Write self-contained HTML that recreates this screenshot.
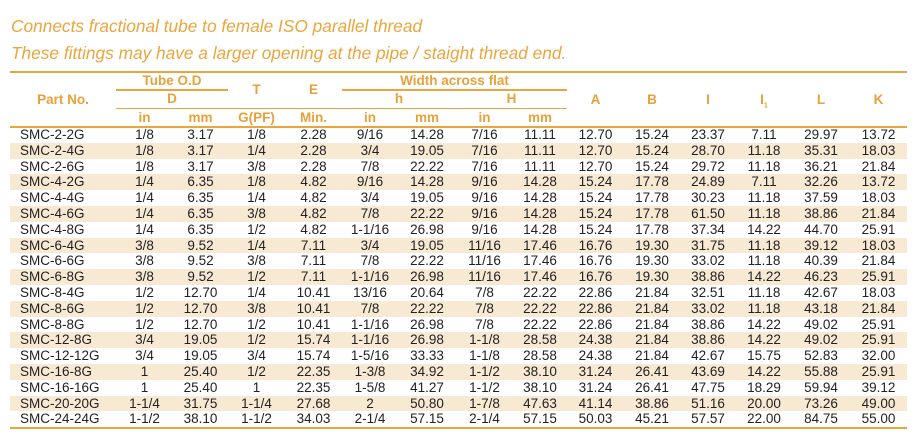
<!DOCTYPE html>
<html><head><meta charset="utf-8"><style>
body{margin:0;width:920px;height:436px;background:#fff;font-family:"Liberation Sans",sans-serif;position:relative;overflow:hidden}
.t{position:absolute;left:11px;color:#eaa63c;font-style:italic;font-size:17.3px;white-space:nowrap}
.h{position:absolute;color:#e6a23a;font-weight:bold;font-size:13.5px;text-align:center;white-space:nowrap}
.ln{position:absolute;height:1.5px;background:#eaa63c}
#tb{position:absolute;left:10px;top:127px;width:897px;font-size:13.5px;color:#222}
.r{display:flex;height:15.8px;line-height:15.8px;white-space:nowrap}
.r:nth-child(even){background:#f8e9d3}
.r span{text-align:center;flex:none}
.r span:nth-child(1){width:96px;padding-left:10px;text-align:left}
.r span:nth-child(2){width:57px}.r span:nth-child(3){width:55px}.r span:nth-child(4){width:57px}
.r span:nth-child(5){width:57px}.r span:nth-child(6){width:56px}.r span:nth-child(7){width:58px}
.r span:nth-child(8){width:57px}.r span:nth-child(9){width:54px}.r span:nth-child(10){width:57px}
.r span:nth-child(11){width:56px}.r span:nth-child(12){width:56px}.r span:nth-child(13){width:56px}
.r span:nth-child(14){width:58px}.r span:nth-child(15){width:57px}
</style></head><body>
<div class="t" style="top:16px">Connects fractional tube to female ISO parallel thread</div>
<div class="t" style="top:43px">These fittings may have a larger opening at the pipe / staight thread end.</div>
<div class="ln" style="left:10px;width:897px;top:71px"></div>
<div class="ln" style="left:116px;width:112px;top:89px"></div>
<div class="ln" style="left:342px;width:225px;top:89px"></div>
<div class="ln" style="left:116px;width:451px;top:107.5px"></div>
<div class="ln" style="left:10px;width:897px;top:126px"></div>
<div class="ln" style="left:10px;width:897px;top:427px"></div>
<div class="h" style="left:116px;width:112px;top:73px">Tube O.D</div>
<div class="h" style="left:116px;width:112px;top:91px">D</div>
<div class="h" style="left:10px;width:106px;top:92px">Part No.</div>
<div class="h" style="left:228px;width:57px;top:82px">T</div>
<div class="h" style="left:285px;width:57px;top:82px">E</div>
<div class="h" style="left:342px;width:225px;top:73px">Width across flat</div>
<div class="h" style="left:342px;width:114px;top:91px">h</div>
<div class="h" style="left:456px;width:111px;top:91px">H</div>
<div class="h" style="left:567px;width:57px;top:92px">A</div>
<div class="h" style="left:624px;width:56px;top:92px">B</div>
<div class="h" style="left:680px;width:56px;top:92px">I</div>
<div class="h" style="left:736px;width:56px;top:92px">I<sub style="font-size:7px">1</sub></div>
<div class="h" style="left:792px;width:58px;top:92px">L</div>
<div class="h" style="left:850px;width:57px;top:92px">K</div>
<div class="h" style="left:116px;width:57px;top:110px">in</div>
<div class="h" style="left:173px;width:55px;top:110px">mm</div>
<div class="h" style="left:228px;width:57px;top:110px">G(PF)</div>
<div class="h" style="left:285px;width:57px;top:110px">Min.</div>
<div class="h" style="left:342px;width:56px;top:110px">in</div>
<div class="h" style="left:398px;width:58px;top:110px">mm</div>
<div class="h" style="left:456px;width:57px;top:110px">in</div>
<div class="h" style="left:513px;width:54px;top:110px">mm</div>
<div id="tb">
<div class="r"><span>SMC-2-2G</span><span>1/8</span><span>3.17</span><span>1/8</span><span>2.28</span><span>9/16</span><span>14.28</span><span>7/16</span><span>11.11</span><span>12.70</span><span>15.24</span><span>23.37</span><span>7.11</span><span>29.97</span><span>13.72</span></div>
<div class="r"><span>SMC-2-4G</span><span>1/8</span><span>3.17</span><span>1/4</span><span>2.28</span><span>3/4</span><span>19.05</span><span>7/16</span><span>11.11</span><span>12.70</span><span>15.24</span><span>28.70</span><span>11.18</span><span>35.31</span><span>18.03</span></div>
<div class="r"><span>SMC-2-6G</span><span>1/8</span><span>3.17</span><span>3/8</span><span>2.28</span><span>7/8</span><span>22.22</span><span>7/16</span><span>11.11</span><span>12.70</span><span>15.24</span><span>29.72</span><span>11.18</span><span>36.21</span><span>21.84</span></div>
<div class="r"><span>SMC-4-2G</span><span>1/4</span><span>6.35</span><span>1/8</span><span>4.82</span><span>9/16</span><span>14.28</span><span>9/16</span><span>14.28</span><span>15.24</span><span>17.78</span><span>24.89</span><span>7.11</span><span>32.26</span><span>13.72</span></div>
<div class="r"><span>SMC-4-4G</span><span>1/4</span><span>6.35</span><span>1/4</span><span>4.82</span><span>3/4</span><span>19.05</span><span>9/16</span><span>14.28</span><span>15.24</span><span>17.78</span><span>30.23</span><span>11.18</span><span>37.59</span><span>18.03</span></div>
<div class="r"><span>SMC-4-6G</span><span>1/4</span><span>6.35</span><span>3/8</span><span>4.82</span><span>7/8</span><span>22.22</span><span>9/16</span><span>14.28</span><span>15.24</span><span>17.78</span><span>61.50</span><span>11.18</span><span>38.86</span><span>21.84</span></div>
<div class="r"><span>SMC-4-8G</span><span>1/4</span><span>6.35</span><span>1/2</span><span>4.82</span><span>1-1/16</span><span>26.98</span><span>9/16</span><span>14.28</span><span>15.24</span><span>17.78</span><span>37.34</span><span>14.22</span><span>44.70</span><span>25.91</span></div>
<div class="r"><span>SMC-6-4G</span><span>3/8</span><span>9.52</span><span>1/4</span><span>7.11</span><span>3/4</span><span>19.05</span><span>11/16</span><span>17.46</span><span>16.76</span><span>19.30</span><span>31.75</span><span>11.18</span><span>39.12</span><span>18.03</span></div>
<div class="r"><span>SMC-6-6G</span><span>3/8</span><span>9.52</span><span>3/8</span><span>7.11</span><span>7/8</span><span>22.22</span><span>11/16</span><span>17.46</span><span>16.76</span><span>19.30</span><span>33.02</span><span>11.18</span><span>40.39</span><span>21.84</span></div>
<div class="r"><span>SMC-6-8G</span><span>3/8</span><span>9.52</span><span>1/2</span><span>7.11</span><span>1-1/16</span><span>26.98</span><span>11/16</span><span>17.46</span><span>16.76</span><span>19.30</span><span>38.86</span><span>14.22</span><span>46.23</span><span>25.91</span></div>
<div class="r"><span>SMC-8-4G</span><span>1/2</span><span>12.70</span><span>1/4</span><span>10.41</span><span>13/16</span><span>20.64</span><span>7/8</span><span>22.22</span><span>22.86</span><span>21.84</span><span>32.51</span><span>11.18</span><span>42.67</span><span>18.03</span></div>
<div class="r"><span>SMC-8-6G</span><span>1/2</span><span>12.70</span><span>3/8</span><span>10.41</span><span>7/8</span><span>22.22</span><span>7/8</span><span>22.22</span><span>22.86</span><span>21.84</span><span>33.02</span><span>11.18</span><span>43.18</span><span>21.84</span></div>
<div class="r"><span>SMC-8-8G</span><span>1/2</span><span>12.70</span><span>1/2</span><span>10.41</span><span>1-1/16</span><span>26.98</span><span>7/8</span><span>22.22</span><span>22.86</span><span>21.84</span><span>38.86</span><span>14.22</span><span>49.02</span><span>25.91</span></div>
<div class="r"><span>SMC-12-8G</span><span>3/4</span><span>19.05</span><span>1/2</span><span>15.74</span><span>1-1/16</span><span>26.98</span><span>1-1/8</span><span>28.58</span><span>24.38</span><span>21.84</span><span>38.86</span><span>14.22</span><span>49.02</span><span>25.91</span></div>
<div class="r"><span>SMC-12-12G</span><span>3/4</span><span>19.05</span><span>3/4</span><span>15.74</span><span>1-5/16</span><span>33.33</span><span>1-1/8</span><span>28.58</span><span>24.38</span><span>21.84</span><span>42.67</span><span>15.75</span><span>52.83</span><span>32.00</span></div>
<div class="r"><span>SMC-16-8G</span><span>1</span><span>25.40</span><span>1/2</span><span>22.35</span><span>1-3/8</span><span>34.92</span><span>1-1/2</span><span>38.10</span><span>31.24</span><span>26.41</span><span>43.69</span><span>14.22</span><span>55.88</span><span>25.91</span></div>
<div class="r"><span>SMC-16-16G</span><span>1</span><span>25.40</span><span>1</span><span>22.35</span><span>1-5/8</span><span>41.27</span><span>1-1/2</span><span>38.10</span><span>31.24</span><span>26.41</span><span>47.75</span><span>18.29</span><span>59.94</span><span>39.12</span></div>
<div class="r"><span>SMC-20-20G</span><span>1-1/4</span><span>31.75</span><span>1-1/4</span><span>27.68</span><span>2</span><span>50.80</span><span>1-7/8</span><span>47.63</span><span>41.14</span><span>38.86</span><span>51.16</span><span>20.00</span><span>73.26</span><span>49.00</span></div>
<div class="r"><span>SMC-24-24G</span><span>1-1/2</span><span>38.10</span><span>1-1/2</span><span>34.03</span><span>2-1/4</span><span>57.15</span><span>2-1/4</span><span>57.15</span><span>50.03</span><span>45.21</span><span>57.57</span><span>22.00</span><span>84.75</span><span>55.00</span></div>
</div>
</body></html>
